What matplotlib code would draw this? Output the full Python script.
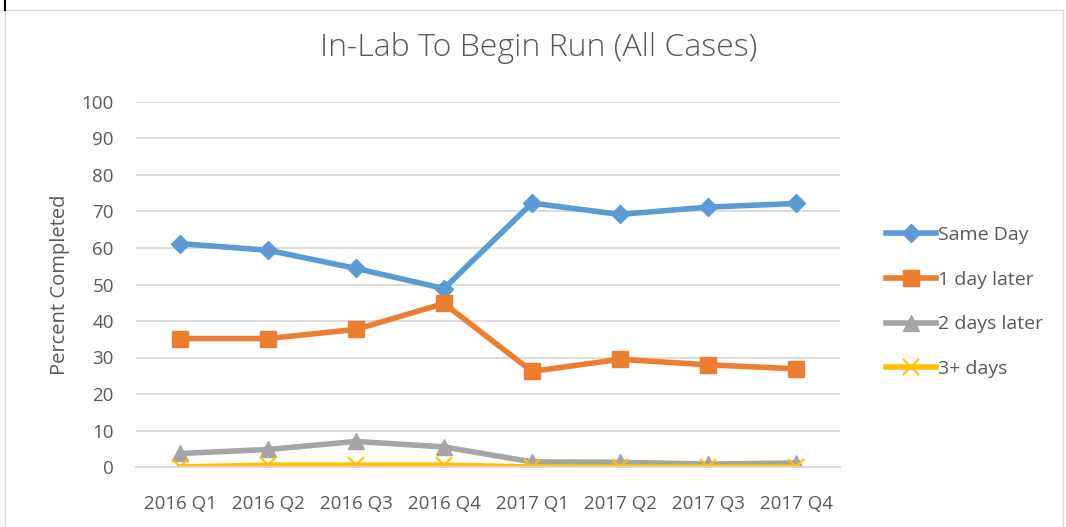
import matplotlib
matplotlib.use("Agg")
import matplotlib.pyplot as plt

quarters = ["2016 Q1", "2016 Q2", "2016 Q3", "2016 Q4",
            "2017 Q1", "2017 Q2", "2017 Q3", "2017 Q4"]
same_day = [61.2, 59.4, 54.4, 48.9, 72.3, 69.2, 71.2, 72.2]
one_day = [35.2, 35.2, 37.7, 44.8, 26.2, 29.5, 28.0, 26.9]
two_days = [3.7, 4.8, 7.0, 5.5, 1.4, 1.3, 0.8, 1.1]
three_plus = [0.0, 0.5, 0.5, 0.5, 0.0, 0.0, 0.0, 0.0]

plt.rcParams['font.family'] = ['Open Sans', 'DejaVu Sans']
txt = '#595959'

fig = plt.figure(figsize=(10.66, 5.27), dpi=100)
ax = fig.add_axes([136/1066, 60/527, 704/1066, 365/527])

x = range(len(quarters))
ax.plot(x, same_day, color='#5b9bd5', lw=4, marker='D', ms=9, label='Same Day')
ax.plot(x, one_day, color='#ed7d31', lw=4, marker='s', ms=11, label='1 day later')
ax.plot(x, two_days, color='#a5a5a5', lw=4, marker='^', ms=11, label='2 days later')
ax.plot(x, three_plus, color='#ffc000', lw=4, marker='x', ms=11, mew=1.5, label='3+ days')

ax.set_xlim(-0.5, 7.5)
ax.set_ylim(0, 100)
ax.set_yticks(range(0, 101, 10))
ax.set_xticks(list(x))
ax.set_xticklabels(quarters)
ax.tick_params(colors=txt, labelsize=13.5, length=0)
ax.tick_params(axis='x', pad=20)
ax.tick_params(axis='y', pad=16)
ax.grid(axis='y', color='#d9d9d9', lw=1.3)
ax.set_axisbelow(True)
for s in ['top', 'right', 'left']:
    ax.spines[s].set_visible(False)
ax.spines['bottom'].set_color('#d9d9d9')
ax.spines['bottom'].set_linewidth(1.3)
ax.set_ylabel('Percent Completed', color=txt, fontsize=14.5, labelpad=8)

fig.text(0.505, 1 - 48/527, 'In-Lab To Begin Run (All Cases)', ha='center',
         va='center', fontsize=23, color=txt, fontweight='light')

leg = fig.legend(loc='center left', bbox_to_anchor=(868/1066, 1 - 302/527),
                 frameon=False, fontsize=14, labelspacing=1.38,
                 handlelength=2.6, handletextpad=0.1)
for t in leg.get_texts():
    t.set_color(txt)

# chart border
fig.patches.append(plt.Rectangle((5/1066, -0.02), 1 - 8/1066, 1 - 10/527 + 0.02,
                                 transform=fig.transFigure, fill=False,
                                 edgecolor='#d9d9d9', lw=1))
fig.lines.append(plt.Line2D([5/1066, 5/1066], [1 - 10/527, 1],
                            transform=fig.transFigure, color='black', lw=1.5))

fig.savefig('out.png', dpi=100)
